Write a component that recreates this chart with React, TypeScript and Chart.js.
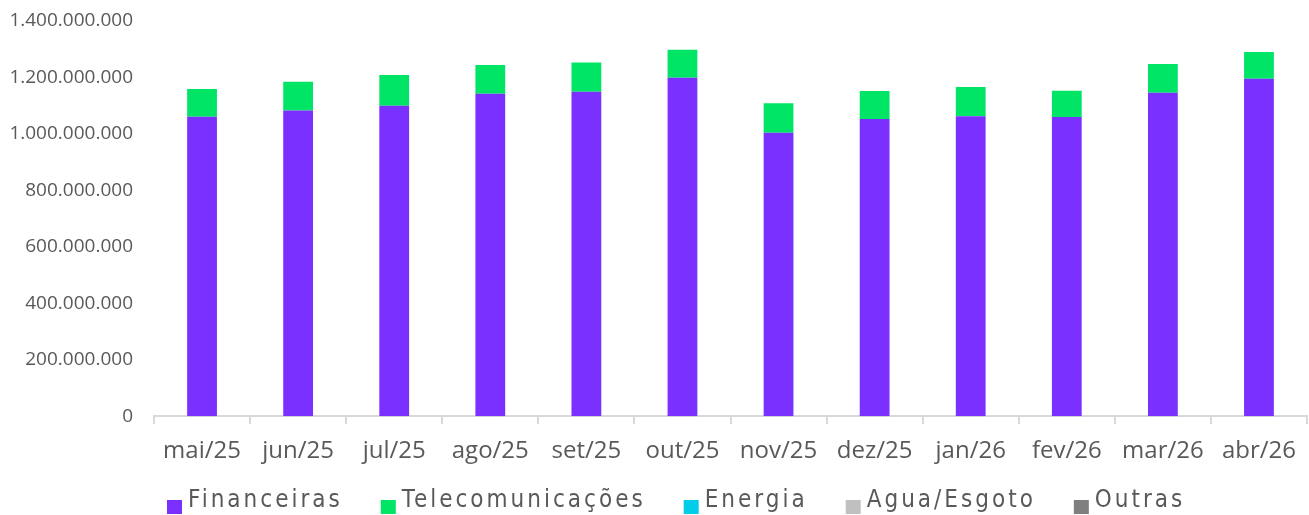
import React, { useEffect, useRef } from "react";
import { Chart, registerables } from "chart.js";

Chart.register(...registerables);

const months = ["mai/25", "jun/25", "jul/25", "ago/25", "set/25", "out/25", "nov/25", "dez/25", "jan/26", "fev/26", "mar/26", "abr/26"];
const financeiras = [1061e6, 1083e6, 1100e6, 1142e6, 1149e6, 1199e6, 1004e6, 1053e6, 1063e6, 1060e6, 1146e6, 1195e6];
const telecom = [98e6, 102e6, 109e6, 102e6, 104e6, 99e6, 105e6, 99e6, 103e6, 93e6, 102e6, 95e6];
const energia = [0, 0, 0, 0, 0, 0, 0, 0, 0, 0, 0, 0];
const agua = [0, 0, 0, 0, 0, 0, 0, 0, 0, 0, 0, 0];
const outras = [0, 0, 0, 0, 0, 0, 0, 0, 0, 0, 0, 0];
const seriesNames = ["Financeiras", "Telecomunicações", "Energia", "Agua/Esgoto", "Outras"];
const seriesColors = ["#7A30FF", "#00E565", "#00CDE8", "#C0C0C0", "#7F7F7F"];

const fmt = (v: number) => String(Math.round(v)).replace(/\B(?=(\d{3})+(?!\d))/g, ".");

const legendPlugin = {
  id: "customLegend",
  afterDraw(chart: any) {
    const ctx = chart.ctx as CanvasRenderingContext2D;
    ctx.save();
    ctx.font = '24px "DejaVu Sans Condensed", "DejaVu Sans", sans-serif';
    try { (ctx as any).fontStretch = "condensed"; } catch (e) {}
    try { (ctx as any).letterSpacing = "3px"; } catch (e) {}
    ctx.textBaseline = "alphabetic";
    ctx.textAlign = "left";
    let x = chart.chartArea.left + 13;
    const baseline = chart.height - 8;
    chart.data.datasets.forEach((ds: any) => {
      ctx.fillStyle = ds.backgroundColor;
      ctx.fillRect(x, baseline - 7, 15, 14);
      ctx.fillStyle = "#595959";
      ctx.fillText(ds.label, x + 21, baseline);
      const w = ctx.measureText(ds.label).width;
      x += 21 + w + 38;
    });
    ctx.restore();
  },
};

export default function App() {
  const ref = useRef<HTMLCanvasElement>(null);
  useEffect(() => {
    if (!ref.current) return;
    const data = [financeiras, telecom, energia, agua, outras];
    const chart = new Chart(ref.current, {
      type: "bar",
      data: {
        labels: months,
        datasets: seriesNames.map((name, i) => ({
          label: name,
          data: data[i],
          backgroundColor: seriesColors[i],
          borderWidth: 0,
          barPercentage: 0.31,
          categoryPercentage: 1,
        })),
      },
      options: {
        responsive: false,
        animation: false,
        devicePixelRatio: 1,
        layout: { padding: { top: 21, left: 0, right: 0, bottom: 36 } },
        plugins: { legend: { display: false }, tooltip: { enabled: false } },
        scales: {
          x: {
            stacked: true,
            offset: true,
            grid: { display: true, drawOnChartArea: false, drawTicks: true, tickLength: 8, color: "#D9D9D9", lineWidth: 2, offset: true },
            border: { display: true, color: "#D9D9D9", width: 2 },
            ticks: { color: "#595959", font: { family: '"Open Sans"', size: 24 }, padding: 13, maxRotation: 0 },
          },
          y: {
            stacked: true,
            min: 0,
            max: 1400e6,
            grid: { display: false, drawTicks: false },
            border: { display: false },
            afterFit: (scale: any) => { scale.width = 154; scale.paddingTop = 0; scale.paddingBottom = 0; },
            ticks: { stepSize: 200e6, color: "#595959", font: { family: '"Open Sans"', size: 19 }, padding: 21, callback: (v: any) => fmt(Number(v)) },
          },
        },
      },
      plugins: [legendPlugin],
    });
    return () => chart.destroy();
  }, []);
  return (
    <div style={{ position: "fixed", left: 0, top: 0, width: 1309, height: 515, background: "#fff" }}>
      <canvas ref={ref} width={1309} height={515} style={{ display: "block" }} />
    </div>
  );
}
